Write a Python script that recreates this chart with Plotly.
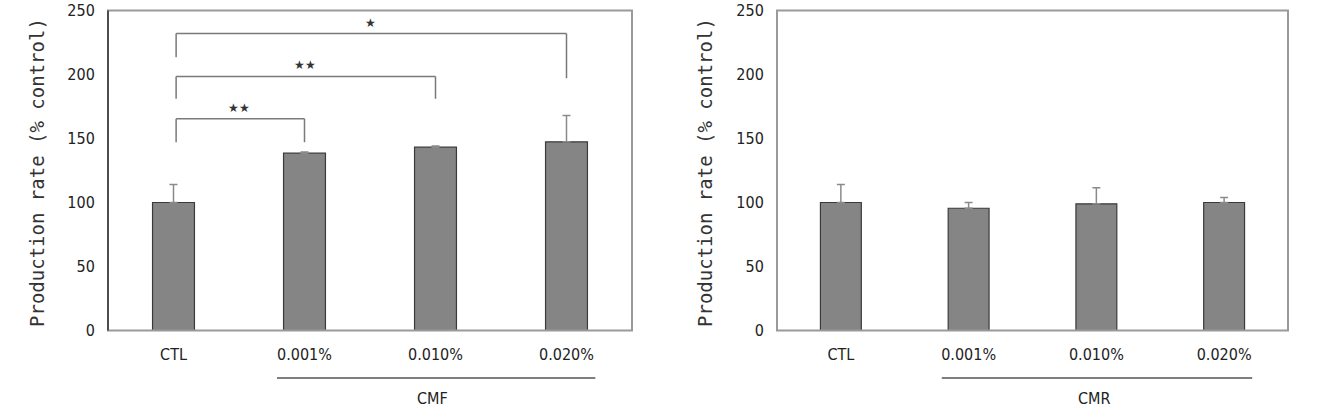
import plotly.graph_objects as go

W, H = 1324, 416

categories = ["CTL", "0.001%", "0.010%", "0.020%"]
cmf_values = [100, 138.5, 143.2, 147.4]
cmf_errors = [14, 1, 1, 20.5]
cmr_values = [100, 95.5, 99, 100]
cmr_errors = [14, 4.5, 12.5, 4]
y_ticks = [0, 50, 100, 150, 200, 250]
group_labels = ["CMF", "CMR"]

# significance brackets (left panel): from CTL (index 0) to target index
bracket_targets = [1, 2, 3]
bracket_tops = [165.5, 198.5, 232]
bracket_left_bottoms = [147, 181, 213.5]
bracket_right_bottoms = [147, 181, 197]
bracket_labels = ["★★", "★★", "★"]

def px_x(p):
    return p / W

def px_y(p):
    return (H - p) / H

ydom = [px_y(330.5), px_y(10.5)]
x1dom = [px_x(108), px_x(632)]
x2dom = [px_x(777), px_x(1288)]

BAR = "#858585"
EDGE = "#3a3a3a"
GRID = "#9a9a9a"
TXT = "#222222"
cond_font = "Liberation Sans Narrow, DejaVu Sans Condensed, Arial Narrow, sans-serif"
mono_font = "DejaVu Sans Mono, Liberation Mono, monospace"

fig = go.Figure()
for vals, errs, xa, ya in [(cmf_values, cmf_errors, "x", "y"), (cmr_values, cmr_errors, "x2", "y2")]:
    fig.add_trace(go.Bar(
        x=categories, y=vals, xaxis=xa, yaxis=ya,
        marker=dict(color=BAR, line=dict(color=EDGE, width=1.2)),
        error_y=dict(type="data", array=errs, arrayminus=[0] * len(errs), symmetric=False,
                     color="#8a8a8a", thickness=1.5, width=4),
        showlegend=False, width=0.32,
    ))

axis_common = dict(showgrid=False, zeroline=False, showline=False, automargin=False)
xt = dict(family=cond_font, size=16, color=TXT)
yt = dict(family=cond_font, size=16, color=TXT)
fig.update_layout(
    width=W, height=H, margin=dict(l=0, r=0, t=0, b=0, autoexpand=False),
    plot_bgcolor="white", paper_bgcolor="white",
    xaxis=dict(domain=x1dom, anchor="y", range=[-0.5, 3.5], tickfont=xt,
               ticks="outside", ticklen=9, tickcolor="rgba(0,0,0,0)", **axis_common),
    xaxis2=dict(domain=x2dom, anchor="y2", range=[-0.5, 3.5], tickfont=xt,
                ticks="outside", ticklen=9, tickcolor="rgba(0,0,0,0)", **axis_common),
    yaxis=dict(domain=ydom, anchor="x", range=[0, 250], tickvals=y_ticks, tickfont=yt,
               ticks="outside", ticklen=9, tickcolor="rgba(0,0,0,0)", **axis_common),
    yaxis2=dict(domain=ydom, anchor="x2", range=[0, 250], tickvals=y_ticks, tickfont=yt,
                ticks="outside", ticklen=9, tickcolor="rgba(0,0,0,0)", **axis_common),
)

shapes = []
# panel boxes
for xa, ya in [("x", "y"), ("x2", "y2")]:
    shapes.append(dict(type="rect", xref=f"{xa} domain", yref=f"{ya} domain", x0=0, x1=1, y0=0, y1=1,
                       line=dict(color=GRID, width=2), layer="above"))
# darker left axis on left panel
shapes.append(dict(type="line", xref="x domain", yref="y domain", x0=0, x1=0, y0=0, y1=1,
                   line=dict(color="#333333", width=1.5), layer="above"))

# brackets
annotations = []
for t, top, lb, rb, lab in zip(bracket_targets, bracket_tops, bracket_left_bottoms, bracket_right_bottoms, bracket_labels):
    lc = dict(color="#7a7a7a", width=1.5)
    shapes.append(dict(type="line", xref="x", yref="y", x0=0.02, x1=0.02, y0=lb, y1=top, line=lc))
    shapes.append(dict(type="line", xref="x", yref="y", x0=0.02, x1=t, y0=top, y1=top, line=lc))
    shapes.append(dict(type="line", xref="x", yref="y", x0=t, x1=t, y0=rb, y1=top, line=lc))
    annotations.append(dict(x=t / 2, y=top, xref="x", yref="y", text=lab, showarrow=False,
                            yanchor="bottom", yshift=1, font=dict(size=12, color="#333333")))

# group underline and labels
for xa, glab in [("x", group_labels[0]), ("x2", group_labels[1])]:
    shapes.append(dict(type="line", xref=xa, yref="paper", x0=0.79, x1=3.22, y0=px_y(378), y1=px_y(378),
                       line=dict(color="#555555", width=1.5)))
    annotations.append(dict(x=1.98, y=px_y(398), xref=xa, yref="paper", text=glab, showarrow=False,
                            yanchor="middle", font=dict(family=cond_font, size=16, color=TXT)))

# y-axis titles
for cx in [37, 705]:
    annotations.append(dict(x=px_x(cx), y=px_y(173), xref="paper", yref="paper",
                            text="Production rate (% control)", textangle=-90, showarrow=False,
                            xanchor="center", yanchor="middle",
                            font=dict(family=mono_font, size=19, color="#333333")))

fig.update_layout(shapes=shapes, annotations=annotations)
fig.write_html("out.html")
